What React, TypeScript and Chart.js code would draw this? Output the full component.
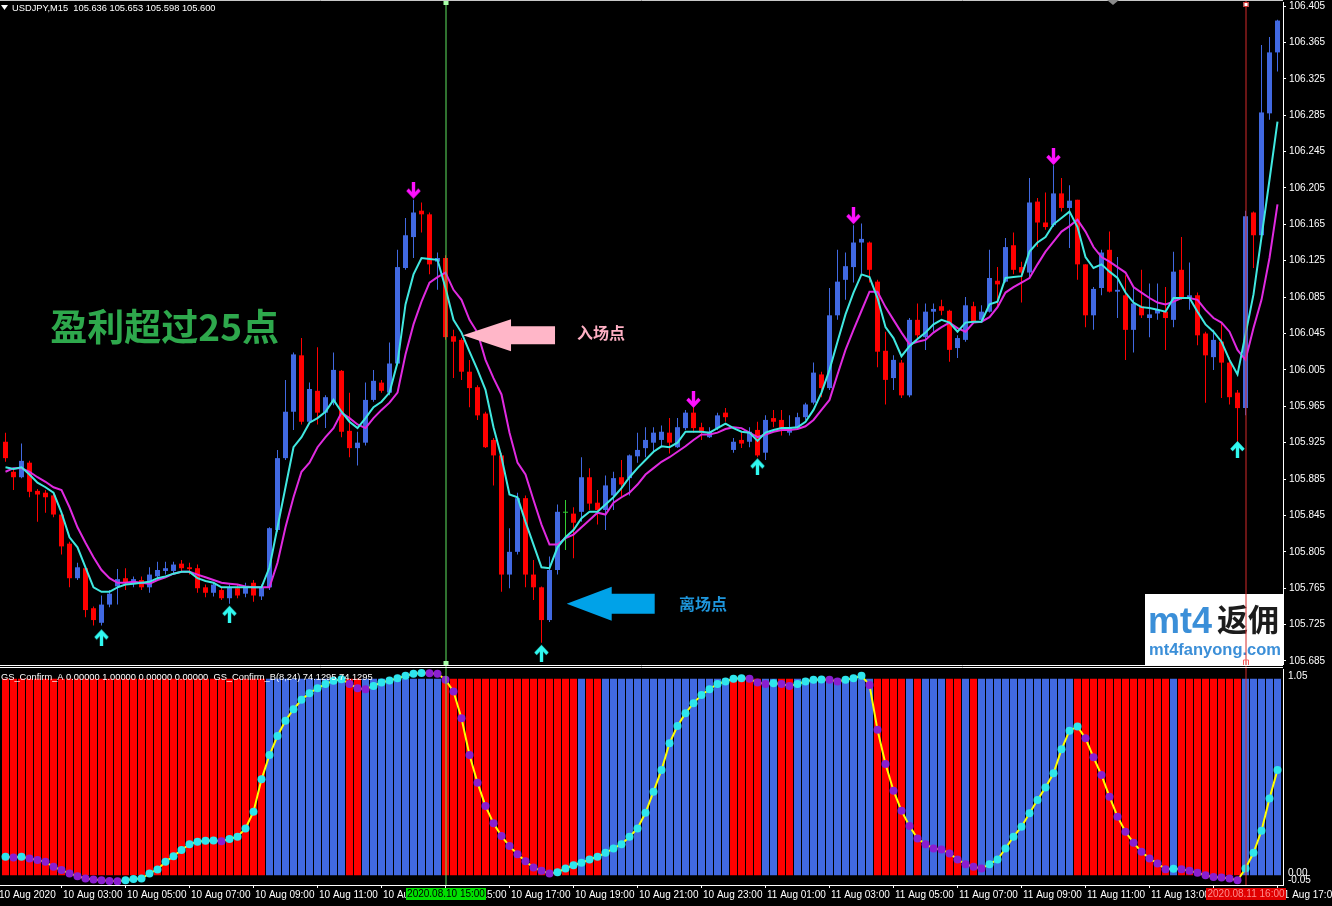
import React, { useEffect, useRef } from "react";
import { Chart, registerables } from "chart.js";

Chart.register(...registerables);

// ---------------- DATA (USDJPY M15, one value per 15-minute candle) ----------------
const openP = [
  105.926,105.893,105.887,105.903,105.872,105.870,105.867,105.846,105.814,105.776,
  105.787,105.743,105.727,105.747,105.767,105.776,105.771,105.774,105.766,105.778,
  105.784,105.784,105.792,105.788,105.787,105.766,105.760,105.763,105.754,105.765,
  105.759,105.771,105.756,105.766,105.829,105.908,105.959,106.021,105.948,105.982,
  105.958,105.969,106.004,105.938,105.919,105.925,105.972,105.991,105.980,106.012,
  106.117,106.151,106.180,106.176,106.124,106.128,106.042,106.038,106.003,105.986,
  105.957,105.928,105.911,105.780,105.805,105.864,105.780,105.766,105.730,105.785,
  105.848,105.847,105.849,105.887,105.859,105.851,105.867,105.887,105.886,105.910,
  105.919,105.925,105.928,105.936,105.920,105.941,105.958,105.942,105.931,105.941,
  105.958,105.917,105.928,105.926,105.939,105.914,105.952,105.950,105.936,105.941,
  105.953,105.969,106.000,105.985,106.065,106.104,106.118,106.145,106.145,106.102,
  106.026,105.996,106.013,105.977,106.060,106.041,106.069,106.075,106.070,106.029,
  106.038,106.075,106.060,106.069,106.103,106.102,106.142,106.118,106.112,106.190,
  106.167,106.164,106.199,106.183,106.192,106.121,106.065,106.095,106.137,106.091,
  106.087,106.049,106.075,106.062,106.067,106.069,106.060,106.115,106.084,106.087,
  106.045,106.019,106.036,106.013,105.980,105.963,106.178,106.153,106.287,106.354,
];
const highP = [
  105.936,105.895,105.924,105.905,105.874,105.873,105.870,105.848,105.816,105.793,
  105.789,105.745,105.757,105.763,105.786,105.787,105.778,105.778,105.788,105.794,
  105.794,105.794,105.796,105.793,105.791,105.769,105.771,105.766,105.769,105.769,
  105.771,105.774,105.769,105.832,105.917,105.994,106.024,106.040,105.991,106.030,
  105.977,106.024,106.005,105.980,105.937,105.991,106.005,105.994,106.035,106.137,
  106.172,106.192,106.189,106.178,106.134,106.131,106.049,106.040,106.016,105.988,
  105.959,105.930,105.914,105.831,105.870,105.867,105.796,105.767,105.800,105.857,
  105.862,105.854,105.909,105.897,105.873,105.889,105.893,105.906,105.912,105.936,
  105.942,105.942,105.944,105.952,105.952,105.961,105.964,105.947,105.942,105.958,
  105.963,105.930,105.937,105.942,105.948,105.955,105.961,105.961,105.955,105.958,
  105.969,106.013,106.003,106.095,106.137,106.134,106.164,106.166,106.146,106.104,
  106.047,106.021,106.016,106.062,106.078,106.078,106.078,106.082,106.071,106.043,
  106.085,106.080,106.076,106.137,106.118,106.150,106.156,106.124,106.216,106.194,
  106.200,106.230,106.216,106.208,106.192,106.121,106.096,106.137,106.157,106.129,
  106.109,106.095,106.115,106.100,106.100,106.096,106.135,106.151,106.123,106.090,
  106.047,106.049,106.057,106.019,105.983,106.180,106.179,106.362,106.371,106.390,
];
const lowP = [
  105.904,105.873,105.886,105.865,105.838,105.848,105.843,105.802,105.766,105.774,
  105.733,105.724,105.724,105.744,105.747,105.763,105.766,105.763,105.760,105.774,
  105.780,105.780,105.783,105.780,105.760,105.755,105.756,105.752,105.748,105.754,
  105.755,105.750,105.752,105.763,105.827,105.906,105.939,105.945,105.947,105.945,
  105.941,105.966,105.931,105.909,105.900,105.922,105.970,105.980,105.977,106.010,
  106.115,106.128,106.156,106.110,106.093,106.038,105.996,105.994,105.964,105.950,
  105.919,105.878,105.761,105.765,105.802,105.766,105.752,105.705,105.728,105.780,
  105.807,105.798,105.838,105.851,105.835,105.829,105.851,105.866,105.867,105.903,
  105.909,105.914,105.920,105.913,105.919,105.939,105.936,105.928,105.930,105.939,
  105.948,105.914,105.919,105.920,105.909,105.906,105.942,105.933,105.933,105.939,
  105.950,105.967,105.975,105.983,106.060,106.082,106.101,106.111,106.101,106.008,
  105.967,105.983,105.974,105.975,106.038,106.027,106.047,106.065,106.014,106.018,
  106.036,106.056,106.058,106.068,106.074,106.101,106.110,106.079,106.107,106.140,
  106.159,106.162,106.179,106.139,106.104,106.052,106.049,106.087,106.090,106.062,
  106.016,106.024,106.062,106.041,106.060,106.027,106.052,106.082,106.071,106.032,
  105.969,106.005,105.974,105.967,105.917,105.955,106.117,106.151,106.280,106.333,
];
const closeP = [
  105.908,105.887,105.905,105.871,105.868,105.865,105.846,105.811,105.776,105.788,
  105.741,105.730,105.747,105.759,105.775,105.771,105.775,105.766,105.780,105.785,
  105.787,105.791,105.787,105.786,105.765,105.760,105.769,105.754,105.766,105.757,
  105.767,105.757,105.766,105.831,105.908,105.959,106.022,105.948,105.984,105.958,
  105.975,106.005,105.937,105.919,105.925,105.972,105.993,105.982,106.012,106.118,
  106.153,106.178,106.176,106.121,106.128,106.041,106.036,106.003,105.985,105.955,
  105.920,105.911,105.780,105.805,105.864,105.780,105.766,105.730,105.785,105.849,
  105.848,105.837,105.887,105.858,105.851,105.878,105.886,105.879,105.911,105.917,
  105.928,105.936,105.937,105.925,105.942,105.958,105.941,105.936,105.937,105.955,
  105.953,105.926,105.924,105.937,105.911,105.950,105.948,105.941,105.941,105.953,
  105.967,106.002,105.985,106.065,106.102,106.119,106.145,106.149,106.115,106.025,
  105.994,106.016,105.977,106.060,106.043,106.069,106.072,106.070,106.027,106.040,
  106.076,106.058,106.069,106.106,106.099,106.140,106.115,106.112,106.189,106.167,
  106.162,106.199,106.183,106.191,106.121,106.065,106.094,106.134,106.091,106.093,
  106.049,106.078,106.065,106.066,106.071,106.062,106.113,106.084,106.087,106.043,
  106.021,106.038,106.013,105.975,105.963,106.174,106.153,106.288,106.354,106.389,
];
// fast (cyan) and slow (magenta) moving averages
const maFast = [
  105.898,105.896,105.898,105.890,105.881,105.876,105.870,105.848,105.821,105.810,
  105.788,105.766,105.761,105.761,105.766,105.769,105.770,105.771,105.772,105.776,
  105.778,105.781,105.783,105.783,105.776,105.773,105.771,105.766,105.766,105.766,
  105.766,105.766,105.766,105.788,105.832,105.876,105.920,105.931,105.947,105.952,
  105.959,105.972,105.959,105.948,105.941,105.952,105.964,105.970,105.980,106.013,
  106.077,106.110,106.128,106.127,106.126,106.095,106.060,106.046,106.025,106.005,
  105.983,105.942,105.909,105.868,105.865,105.838,105.813,105.788,105.787,105.810,
  105.821,105.829,105.842,105.849,105.849,105.857,105.865,105.875,105.887,105.897,
  105.906,105.915,105.921,105.920,105.925,105.937,105.937,105.937,105.936,105.941,
  105.946,105.941,105.937,105.936,105.927,105.936,105.939,105.941,105.941,105.942,
  105.948,105.961,105.980,106.005,106.036,106.066,106.090,106.110,106.107,106.084,
  106.052,106.040,106.020,106.031,106.039,106.046,106.055,106.060,106.057,106.047,
  106.057,106.058,106.058,106.077,106.080,106.106,106.107,106.108,106.135,106.145,
  106.151,106.165,106.172,106.179,106.162,106.129,106.117,106.121,106.113,106.106,
  106.090,106.079,106.074,106.073,106.071,106.069,106.084,106.084,106.084,106.069,
  106.055,106.047,106.036,106.016,106.000,106.044,106.088,106.151,106.214,106.278,
];
const maSlow = [
  105.893,105.897,105.897,105.893,105.887,105.882,105.876,105.873,105.854,105.832,
  105.815,105.799,105.785,105.776,105.771,105.771,105.772,105.771,105.770,105.774,
  105.777,105.781,105.783,105.783,105.780,105.777,105.774,105.771,105.770,105.769,
  105.767,105.766,105.766,105.766,105.793,105.832,105.865,105.893,105.903,105.920,
  105.931,105.941,105.958,105.952,105.945,105.941,105.952,105.961,105.969,105.980,
  106.022,106.055,106.080,106.101,106.107,106.112,106.093,106.082,106.060,106.046,
  106.016,105.996,105.978,105.936,105.903,105.890,105.862,105.835,105.813,105.813,
  105.820,105.824,105.832,105.840,105.848,105.846,105.859,105.865,105.870,105.879,
  105.890,105.897,105.904,105.909,105.915,105.921,105.928,105.934,105.934,105.936,
  105.940,105.942,105.941,105.936,105.931,105.934,105.937,105.939,105.939,105.940,
  105.943,105.950,105.961,105.972,106.000,106.027,106.049,106.070,106.091,106.091,
  106.074,106.060,106.046,106.033,106.036,106.038,106.046,106.052,106.057,106.051,
  106.047,106.057,106.058,106.063,106.074,106.090,106.096,106.101,106.106,106.121,
  106.135,106.146,106.157,106.163,106.170,106.157,106.140,106.129,106.124,106.118,
  106.112,106.096,106.090,106.084,106.079,106.077,106.080,106.084,106.084,106.082,
  106.071,106.062,106.057,106.047,106.027,106.016,106.051,106.082,106.128,106.187,
];
// GS_Confirm_A histogram state: 1 = blue (up), 0 = red (down)
const confirmA = [
  0,0,0,0,0,0,0,0,0,0, 0,0,0,0,0,0,0,0,0,0, 0,0,0,0,0,0,0,0,0,0,
  0,0,0,1,1,1,1,1,1,1, 1,1,1,0,0,1,1,1,1,1, 1,1,1,1,1,0,0,0,0,0,
  0,0,0,0,0,0,0,0,0,0, 0,0,1,0,0,1,1,1,1,1, 1,1,1,1,1,1,1,1,1,1,
  1,0,0,0,0,1,1,0,0,1, 1,1,1,1,1,1,1,1,1,0, 0,0,0,1,0,1,1,1,0,0,
  1,0,1,1,1,1,1,1,1,1, 1,1,1,1,0,0,0,0,0,0, 0,0,0,0,0,0,1,0,0,0,
  0,0,0,0,0,1,1,1,1,1,
];
const confirmBarLevel = 1;
// GS_Confirm_B oscillator (0..1)
const confirmB = [
  0.094,0.090,0.094,0.085,0.077,0.068,0.043,0.026,0.009,-0.005,
  -0.017,-0.022,-0.026,-0.029,-0.031,-0.026,-0.020,-0.017,0.009,0.029,
  0.068,0.097,0.128,0.158,0.170,0.175,0.177,0.173,0.184,0.196,
  0.238,0.323,0.488,0.612,0.709,0.787,0.845,0.893,0.927,0.952,
  0.973,0.990,0.998,0.974,0.952,0.947,0.964,0.981,0.991,1.003,
  1.015,1.026,1.029,1.028,1.026,0.995,0.935,0.799,0.612,0.471,
  0.352,0.264,0.199,0.148,0.107,0.071,0.039,0.022,0.009,0.015,
  0.034,0.051,0.063,0.080,0.094,0.114,0.136,0.158,0.196,0.238,
  0.318,0.425,0.536,0.672,0.760,0.825,0.876,0.918,0.947,0.974,
  0.986,1.000,1.003,1.000,0.981,0.974,0.978,0.974,0.964,0.974,
  0.986,0.995,0.996,0.995,0.986,0.995,1.003,1.015,0.969,0.740,
  0.566,0.430,0.328,0.250,0.187,0.158,0.136,0.131,0.111,0.080,
  0.056,0.043,0.034,0.056,0.080,0.136,0.196,0.247,0.315,0.383,
  0.447,0.519,0.641,0.736,0.757,0.697,0.600,0.510,0.400,0.298,
  0.221,0.165,0.119,0.085,0.060,0.030,0.033,0.030,0.022,0.012,
  0.000,-0.009,-0.012,-0.017,-0.026,0.034,0.114,0.226,0.391,0.536,
];
// signal arrows
const sellIdx = [51, 86, 106, 131];
const sellPrice = [106.202, 105.972, 106.174, 106.239];
const buyIdx = [12, 28, 67, 94, 154];
const buyPrice = [105.711, 105.737, 105.694, 105.899, 105.918];
// axes
const priceTicks = [
  105.685, 105.725, 105.765, 105.805, 105.845, 105.885, 105.925, 105.965, 106.005, 106.045,
  106.085, 106.125, 106.165, 106.205, 106.245, 106.285, 106.325, 106.365, 106.405,
];
const timeTickIdx = [-1, 7, 15, 23, 31, 39, 47, 55, 63, 71, 79, 87, 95, 103, 111, 119, 127, 135, 143, 151, 159];
const timeTickLabels = [
  "10 Aug 2020", "10 Aug 03:00", "10 Aug 05:00", "10 Aug 07:00", "10 Aug 09:00", "10 Aug 11:00",
  "10 Aug 13:00", "10 Aug 15:00", "10 Aug 17:00", "10 Aug 19:00", "10 Aug 21:00", "10 Aug 23:00",
  "11 Aug 01:00", "11 Aug 03:00", "11 Aug 05:00", "11 Aug 07:00", "11 Aug 09:00", "11 Aug 11:00",
  "11 Aug 13:00", "11 Aug 15:00", "11 Aug 17:00",
];
const subTicks = [1.05, 0, -0.05];
const subTickLabels = ["1.05", "0.00", "-0.05"];
// entry / exit
const entryIdx = 55;
const exitIdx = 155;
const entryTimeLabel = "2020.08.10 15:00";
const exitTimeLabel = "2020.08.11 16:00";
// texts
const headerText = "USDJPY,M15  105.636 105.653 105.598 105.600";
const subHeaderText = "GS_Confirm_A 0.00000 1.00000 0.00000 0.00000  GS_Confirm_B(8,24) 74.1295 74.1295";
const titleText = "盈利超过25点";
const entryText = "入场点";
const exitText = "离场点";
// annotation anchors (candle index, price)
const titleAnchor = { i: 5.6, p: 106.052 };
const entryArrowTip = { i: 57.19, p: 106.043 };
const entryTextAnchor = { i: 71.44, p: 106.046 };
const exitArrowTip = { i: 70.15, p: 105.748 };
const exitTextAnchor = { i: 84.19, p: 105.748 };

// ---------------- STYLE ----------------
const X_MIN = -0.6875;
const X_MAX = 159.6875;
const PRICE_MIN = 105.6817;
const PRICE_MAX = 106.4094;
const SUB_MIN = -0.05;
const SUB_MAX = 1.05;
const BULL = "#4169e1";
const BEAR = "#ff0000";
const DOJI = "#33cc33";
const FAST = "#40e8e0";
const SLOW = "#e02ae0";
const SELL_COLOR = "#ff10ff";
const BUY_COLOR = "#30f8f0";
const DOT_UP = "#2ee6ee";
const DOT_DOWN = "#8a1ed0";
const OSC_LINE = "#ffff00";
const GREEN_LINE = "#5ee35e";
const RED_LINE = "#d42a2a";
const AXIS_FONT = '10px "Liberation Sans"';

const N = openP.length;
const idx = Array.from({ length: N }, (_, i) => i);
const candleColor = idx.map((i) =>
  closeP[i] > openP[i] ? BULL : closeP[i] < openP[i] ? BEAR : DOJI
);
const histColor = confirmA.map((v) => (v ? BULL : BEAR));
const dotColor = confirmB.map((v, i) => (i === 0 || v >= confirmB[i - 1] ? DOT_UP : DOT_DOWN));

function makeArrow(color: string, down: boolean): HTMLCanvasElement {
  const c = document.createElement("canvas");
  c.width = 15;
  c.height = 18;
  const g = c.getContext("2d") as CanvasRenderingContext2D;
  g.strokeStyle = color;
  g.lineWidth = 3.4;
  g.lineJoin = "miter";
  g.lineCap = "butt";
  const f = (yy: number) => (down ? yy : 18 - yy);
  g.beginPath();
  g.moveTo(7.5, f(0));
  g.lineTo(7.5, f(14));
  g.stroke();
  g.beginPath();
  g.moveTo(1.5, f(8));
  g.lineTo(7.5, f(14.5));
  g.lineTo(13.5, f(8));
  g.stroke();
  return c;
}

function bigArrow(ctx: CanvasRenderingContext2D, tx: number, ty: number, len: number, headLen: number, hh: number, sh: number, color: string) {
  ctx.fillStyle = color;
  ctx.beginPath();
  ctx.moveTo(tx, ty);
  ctx.lineTo(tx + headLen, ty - hh);
  ctx.lineTo(tx + headLen, ty - sh);
  ctx.lineTo(tx + len, ty - sh);
  ctx.lineTo(tx + len, ty + sh);
  ctx.lineTo(tx + headLen, ty + sh);
  ctx.lineTo(tx + headLen, ty + hh);
  ctx.closePath();
  ctx.fill();
}

const mainDecor = {
  id: "mainDecor",
  afterDatasetsDraw(chart: any) {
    const { ctx, chartArea: a, scales } = chart;
    const xs = scales.x;
    const ys = scales.y;
    const px = (i: number) => xs.getPixelForValue(i);
    const py = (p: number) => ys.getPixelForValue(p);
    ctx.save();
    // watermark logo box
    const lx = a.right - 138;
    const ly = a.bottom - 70;
    ctx.fillStyle = "#ffffff";
    ctx.fillRect(lx, ly, 138, 72);
    ctx.textBaseline = "alphabetic";
    ctx.textAlign = "left";
    ctx.fillStyle = "#3b8fd8";
    ctx.font = 'bold 36px "Liberation Sans"';
    ctx.fillText("mt4", lx + 3, ly + 39);
    ctx.fillStyle = "#1c1c1c";
    ctx.font = 'bold 31px "Noto Sans CJK SC"';
    ctx.textBaseline = "middle";
    ctx.fillText("返佣", lx + 72, ly + 25);
    ctx.textBaseline = "alphabetic";
    ctx.fillStyle = "#3b8fd8";
    ctx.font = 'bold 16.5px "Liberation Sans"';
    ctx.fillText("mt4fanyong.com", lx + 4, ly + 61);

    // title
    ctx.textBaseline = "middle";
    ctx.fillStyle = "#2ea84c";
    ctx.font = 'bold 37px "Noto Sans CJK SC"';
    ctx.fillText(titleText, px(titleAnchor.i), py(titleAnchor.p));
    // entry arrow + text
    bigArrow(ctx, px(entryArrowTip.i), py(entryArrowTip.p), 92, 48, 16, 9, "#ffb6c8");
    ctx.fillStyle = "#ffb0c4";
    ctx.font = 'bold 16px "Noto Sans CJK SC"';
    ctx.fillText(entryText, px(entryTextAnchor.i), py(entryTextAnchor.p));
    // exit arrow + text
    bigArrow(ctx, px(exitArrowTip.i), py(exitArrowTip.p), 88, 45, 17, 10, "#00a2e8");
    ctx.fillStyle = "#1e96dc";
    ctx.fillText(exitText, px(exitTextAnchor.i), py(exitTextAnchor.p));

    // vertical lines
    ctx.lineWidth = 1;
    const gx = Math.round(px(entryIdx)) + 0.5;
    const rx = Math.round(px(exitIdx)) + 0.5;
    ctx.strokeStyle = GREEN_LINE;
    ctx.beginPath();
    ctx.moveTo(gx - 0.5, 0);
    ctx.lineTo(gx - 0.5, a.bottom + 2);
    ctx.stroke();
    ctx.strokeStyle = RED_LINE;
    ctx.beginPath();
    ctx.moveTo(rx - 0.5, 0);
    ctx.lineTo(rx - 0.5, a.bottom + 2);
    ctx.stroke();
    // markers on lines
    ctx.fillStyle = "#a8ffa8";
    ctx.fillRect(gx - 3, 0, 5, 5);
    ctx.fillRect(gx - 3, a.bottom - 3, 5, 5);
    ctx.fillStyle = "#ffffff";
    ctx.fillRect(rx - 3, 2, 5, 5);
    ctx.strokeStyle = RED_LINE;
    ctx.strokeRect(rx - 2.5, 2.5, 4, 4);
    ctx.strokeStyle = "#ff6060";
    ctx.beginPath();
    ctx.moveTo(rx - 3, a.bottom + 1);
    ctx.lineTo(rx - 3, a.bottom - 4);
    ctx.lineTo(rx + 2, a.bottom - 4);
    ctx.lineTo(rx + 2, a.bottom + 1);
    ctx.stroke();
    ctx.restore();
  },
  afterDraw(chart: any) {
    const { ctx, chartArea: a } = chart;
    ctx.save();
    ctx.strokeStyle = "#c8c8c8";
    ctx.lineWidth = 1;
    ctx.beginPath();
    ctx.moveTo(0, 0.5);
    ctx.lineTo(a.right, 0.5);
    ctx.stroke();
    ctx.strokeStyle = "#ffffff";
    ctx.beginPath();
    ctx.moveTo(0, chart.height - 0.5);
    ctx.lineTo(a.right, chart.height - 0.5);
    ctx.stroke();
    // shift marker
    ctx.fillStyle = "#8a8a8a";
    ctx.beginPath();
    ctx.moveTo(a.right - 176, 0);
    ctx.lineTo(a.right - 164, 0);
    ctx.lineTo(a.right - 170, 5);
    ctx.closePath();
    ctx.fill();
    // header
    ctx.fillStyle = "#ffffff";
    ctx.beginPath();
    ctx.moveTo(1, 5);
    ctx.lineTo(8, 5);
    ctx.lineTo(4.5, 10);
    ctx.closePath();
    ctx.fill();
    ctx.font = '9.3px "Liberation Sans"';
    ctx.textBaseline = "middle";
    ctx.textAlign = "left";
    ctx.fillText(headerText, 12, 8);
    ctx.restore();
  },
};

const subDecor = {
  id: "subDecor",
  afterDatasetsDraw(chart: any) {
    const { ctx, chartArea: a, scales } = chart;
    const xs = scales.x;
    const ys = scales.y;
    ctx.save();
    ctx.lineWidth = 1;
    const gx = Math.round(xs.getPixelForValue(entryIdx));
    const rx = Math.round(xs.getPixelForValue(exitIdx));
    ctx.strokeStyle = GREEN_LINE;
    ctx.beginPath();
    ctx.moveTo(gx, 0);
    ctx.lineTo(gx, a.bottom);
    ctx.stroke();
    ctx.strokeStyle = RED_LINE;
    ctx.beginPath();
    ctx.moveTo(rx, 0);
    ctx.lineTo(rx, a.bottom);
    ctx.stroke();
    // header
    ctx.fillStyle = "#ffffff";
    ctx.font = '9.3px "Liberation Sans"';
    ctx.textAlign = "left";
    ctx.textBaseline = "middle";
    ctx.fillText(subHeaderText, 1, 11);
    // right axis labels
    ctx.font = AXIS_FONT;
    const lx = a.right + 5;
    subTicks.forEach((v, k) => {
      const yy = ys.getPixelForValue(v);
      if (k === 0) {
        ctx.textBaseline = "top";
        ctx.fillText(subTickLabels[k], lx, yy + 2);
      } else if (k === subTicks.length - 1) {
        ctx.textBaseline = "bottom";
        ctx.fillText(subTickLabels[k], lx, yy);
      } else {
        ctx.textBaseline = "middle";
        ctx.fillText(subTickLabels[k], lx, yy - 2);
      }
    });
    ctx.restore();
  },
  afterDraw(chart: any) {
    const { ctx, chartArea: a, scales } = chart;
    const xs = scales.x;
    ctx.save();
    ctx.strokeStyle = "#ffffff";
    ctx.lineWidth = 1;
    ctx.beginPath();
    ctx.moveTo(0, 1.5);
    ctx.lineTo(a.right, 1.5);
    ctx.stroke();
    ctx.font = AXIS_FONT;
    ctx.textAlign = "center";
    ctx.textBaseline = "middle";
    const gx = Math.round(xs.getPixelForValue(entryIdx));
    const rx = Math.round(xs.getPixelForValue(exitIdx));
    ctx.fillStyle = "#00e000";
    ctx.fillRect(gx - 40, a.bottom + 3, 80, 12);
    ctx.fillStyle = "#000000";
    ctx.fillText(entryTimeLabel, gx, a.bottom + 9.5);
    ctx.fillStyle = "#e00000";
    ctx.fillRect(rx - 40, a.bottom + 3, 80, 12);
    ctx.fillStyle = "#ff8c8c";
    ctx.fillText(exitTimeLabel, rx, a.bottom + 9.5);
    ctx.restore();
  },
};

function mainConfig(): any {
  const downArrow = makeArrow(SELL_COLOR, true);
  const upArrow = makeArrow(BUY_COLOR, false);
  return {
    type: "bar",
    data: {
      datasets: [
        {
          type: "bar",
          label: "wick",
          data: idx.map((i) => ({ x: i, y: [lowP[i], highP[i]] })),
          backgroundColor: candleColor,
          barThickness: 1,
          grouped: false,
          inflateAmount: 0,
          minBarLength: 1,
          order: 5,
        },
        {
          type: "bar",
          label: "body",
          data: idx.map((i) => ({ x: i, y: [openP[i], closeP[i]] })),
          backgroundColor: candleColor,
          barThickness: 5,
          grouped: false,
          inflateAmount: 0,
          minBarLength: 1,
          order: 4,
        },
        {
          type: "line",
          label: "slow",
          data: idx.map((i) => ({ x: i, y: maSlow[i] })),
          borderColor: SLOW,
          borderWidth: 2,
          pointRadius: 0,
          tension: 0,
          order: 3,
        },
        {
          type: "line",
          label: "fast",
          data: idx.map((i) => ({ x: i, y: maFast[i] })),
          borderColor: FAST,
          borderWidth: 2,
          pointRadius: 0,
          tension: 0,
          order: 2,
        },
        {
          type: "scatter",
          label: "sell",
          data: sellIdx.map((v, k) => ({ x: v, y: sellPrice[k] })),
          pointStyle: downArrow,
          pointRadius: 8,
          order: 1,
        },
        {
          type: "scatter",
          label: "buy",
          data: buyIdx.map((v, k) => ({ x: v, y: buyPrice[k] })),
          pointStyle: upArrow,
          pointRadius: 8,
          order: 1,
        },
      ],
    },
    options: {
      responsive: false,
      animation: false,
      devicePixelRatio: 1,
      events: [],
      layout: { autoPadding: false, padding: { top: 2, bottom: 2, left: 0, right: 0 } },
      plugins: { legend: { display: false }, tooltip: { enabled: false }, title: { display: false } },
      scales: {
        x: { type: "linear", min: X_MIN, max: X_MAX, display: false, offset: false, bounds: "data", grid: { offset: false } },
        y: {
          type: "linear",
          position: "right",
          min: PRICE_MIN,
          max: PRICE_MAX,
          beginAtZero: false,
          afterBuildTicks: (s: any) => {
            s.ticks = priceTicks.map((v) => ({ value: v }));
          },
          afterFit: (s: any) => {
            s.width = 49;
            s.paddingTop = 0;
            s.paddingBottom = 0;
          },
          grid: { display: true, drawOnChartArea: false, drawTicks: true, tickLength: 3, color: "#ffffff" },
          border: { display: true, color: "#ffffff", width: 1 },
          ticks: {
            color: "#ffffff",
            font: { family: "Liberation Sans", size: 10 },
            padding: 3,
            autoSkip: false,
            callback: (v: any) => Number(v).toFixed(3),
          },
        },
      },
    },
    plugins: [mainDecor],
  };
}

function subConfig(): any {
  return {
    type: "bar",
    data: {
      datasets: [
        {
          type: "line",
          label: "GS_Confirm_B",
          data: idx.map((i) => ({ x: i, y: confirmB[i] })),
          borderColor: OSC_LINE,
          borderWidth: 2,
          tension: 0,
          pointRadius: 4,
          pointBorderWidth: 0,
          pointBackgroundColor: dotColor,
          order: 0,
        },
        {
          type: "bar",
          label: "GS_Confirm_A",
          data: idx.map((i) => ({ x: i, y: confirmBarLevel })),
          backgroundColor: histColor,
          barThickness: 7,
          grouped: false,
          inflateAmount: 0,
          order: 1,
        },
      ],
    },
    options: {
      responsive: false,
      animation: false,
      devicePixelRatio: 1,
      events: [],
      layout: { autoPadding: false, padding: { top: 3, bottom: 0, left: 0, right: 0 } },
      plugins: { legend: { display: false }, tooltip: { enabled: false }, title: { display: false } },
      scales: {
        x: {
          type: "linear",
          position: "bottom",
          min: X_MIN,
          max: X_MAX,
          offset: false,
          bounds: "data",
          afterBuildTicks: (s: any) => {
            s.ticks = timeTickIdx.map((v) => ({ value: v }));
          },
          afterFit: (s: any) => {
            s.height = 21;
            s.paddingLeft = 0;
            s.paddingRight = 0;
          },
          grid: { display: true, drawOnChartArea: false, drawTicks: true, tickLength: 3, color: "#ffffff", offset: false },
          border: { display: true, color: "#ffffff" },
          ticks: {
            color: "#ffffff",
            font: { family: "Liberation Sans", size: 10 },
            padding: 1,
            maxRotation: 0,
            minRotation: 0,
            autoSkip: false,
            align: "start",
            labelOffset: 1.5,
            callback: (_v: any, k: number) => timeTickLabels[k],
          },
        },
        y: {
          type: "linear",
          position: "right",
          min: SUB_MIN,
          max: SUB_MAX,
          beginAtZero: false,
          afterFit: (s: any) => {
            s.width = 49;
            s.paddingTop = 0;
            s.paddingBottom = 0;
          },
          grid: { display: false },
          border: { display: true, color: "#ffffff" },
          ticks: { display: false },
        },
      },
    },
    plugins: [subDecor],
  };
}

export default function App() {
  const mainRef = useRef<HTMLCanvasElement>(null);
  const subRef = useRef<HTMLCanvasElement>(null);
  useEffect(() => {
    const c1 = new Chart(mainRef.current as HTMLCanvasElement, mainConfig());
    const c2 = new Chart(subRef.current as HTMLCanvasElement, subConfig());
    return () => {
      c1.destroy();
      c2.destroy();
    };
  }, []);
  return (
    <div
      style={{
        position: "absolute",
        left: 0,
        top: 0,
        width: 1332,
        height: 906,
        background: "#000000",
        overflow: "hidden",
      }}
    >
      <canvas ref={mainRef} width={1332} height={666} style={{ position: "absolute", left: 0, top: 0 }} />
      <canvas ref={subRef} width={1332} height={240} style={{ position: "absolute", left: 0, top: 666 }} />
    </div>
  );
}
